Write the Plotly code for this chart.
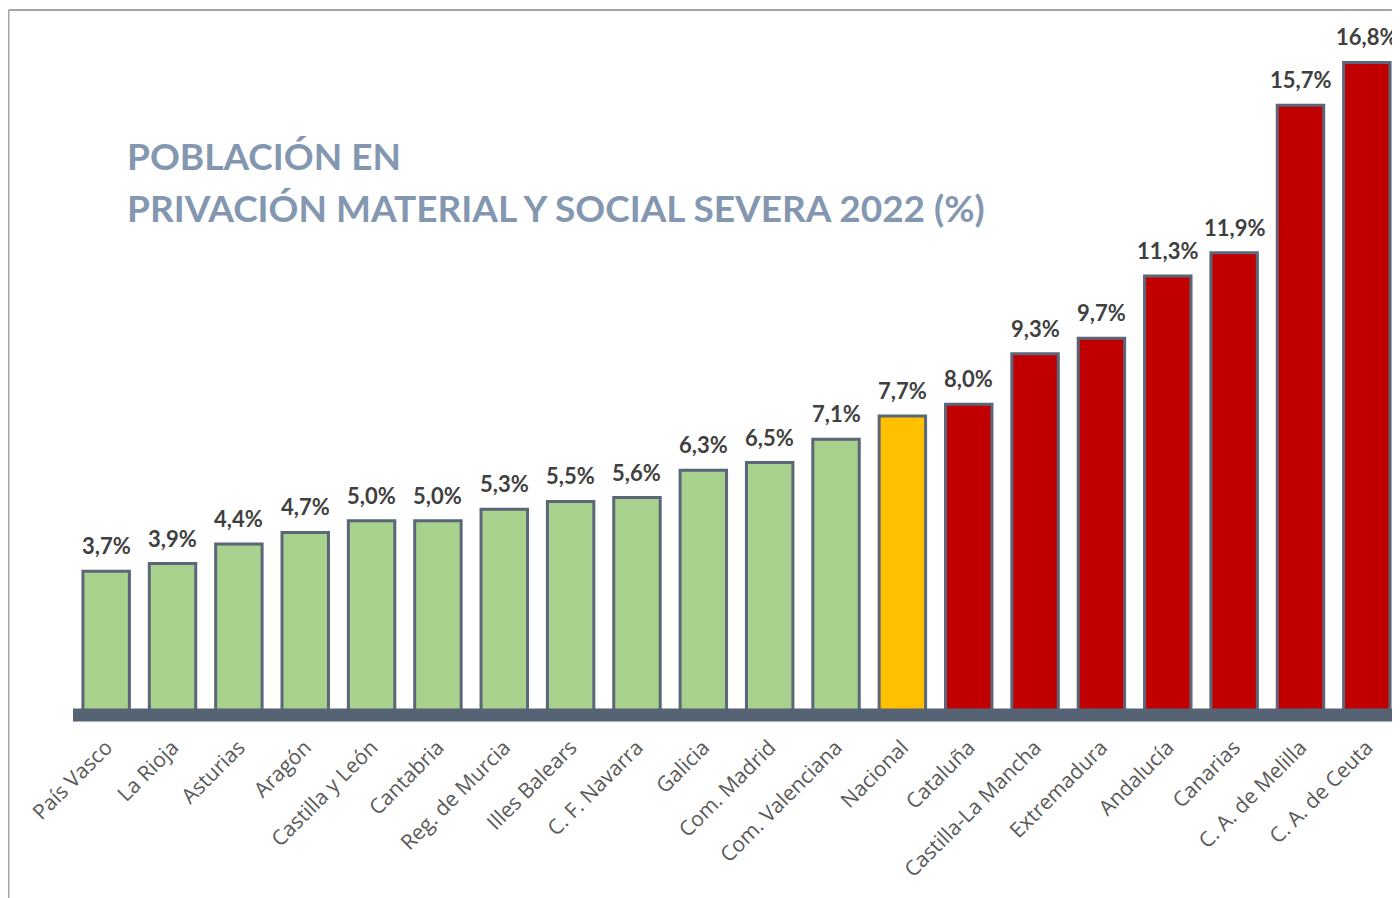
import plotly.graph_objects as go

regions = ["País Vasco", "La Rioja", "Asturias", "Aragón", "Castilla y León",
           "Cantabria", "Reg. de Murcia", "Illes Balears", "C. F. Navarra",
           "Galicia", "Com. Madrid", "Com. Valenciana", "Nacional", "Cataluña",
           "Castilla-La Mancha", "Extremadura", "Andalucía", "Canarias",
           "C. A. de Melilla", "C. A. de Ceuta"]
values = [3.7, 3.9, 4.4, 4.7, 5.0, 5.0, 5.3, 5.5, 5.6, 6.3, 6.5, 7.1,
          7.7, 8.0, 9.3, 9.7, 11.3, 11.9, 15.7, 16.8]
national = 7.7

GREEN, YELLOW, RED = "#A9D18E", "#FFC000", "#C00000"
colors = []
for r, v in zip(regions, values):
    if r == "Nacional":
        colors.append(YELLOW)
    elif v > national:
        colors.append(RED)
    else:
        colors.append(GREEN)

labels = [f"{v:.1f}%".replace(".", ",") for v in values]

# page has an 8px body margin, so the figure is 8px smaller on each axis
W, H = 1392, 890
ml, mr, mt, mb = 65, 0, 2, 183
plot_w = W - ml - mr
plot_h = H - mt - mb


def px_x(p):
    return (p - ml) / plot_w


def px_y(p):
    return (H - mb - p) / plot_h


fig = go.Figure(go.Bar(
    x=regions, y=values,
    marker=dict(color=colors, line=dict(color="#5B6678", width=3)),
    width=0.7, hoverinfo="skip",
))

# value labels above bars
for r, v, t in zip(regions, values, labels):
    fig.add_annotation(x=r, y=v, text="<b>" + t + "</b>", showarrow=False,
                       yanchor="bottom", yshift=10,
                       font=dict(family="Lato", size=22, color="#404040"))

# title (two lines)
for txt, yy in [("POBLACIÓN EN", 148),
                ("PRIVACIÓN MATERIAL Y SOCIAL SEVERA 2022 (%)", 200)]:
    fig.add_annotation(
        xref="paper", yref="paper", x=px_x(117), y=px_y(yy),
        xanchor="left", yanchor="middle", align="left", showarrow=False,
        text="<b>" + txt + "</b>",
        font=dict(family="Lato", size=37, color="#8497B0"),
    )

# thick base bar (paper ref so it is not clipped at the plot edge)
fig.add_shape(type="line", xref="paper", yref="paper", x0=0, x1=1.01, y0=0, y1=0,
              line=dict(color="#566375", width=13), layer="above")

# frame lines (left and top)
fig.add_shape(type="line", xref="paper", yref="paper", x0=px_x(0.5), x1=1.01,
              y0=px_y(2), y1=px_y(2), line=dict(color="#A6A6A6", width=2))
fig.add_shape(type="line", xref="paper", yref="paper", x0=px_x(0.5), x1=px_x(0.5),
              y0=px_y(2), y1=px_y(H + 5), line=dict(color="#A6A6A6", width=2))

fig.update_layout(
    width=W, height=H,
    margin=dict(l=ml, r=mr, t=mt, b=mb),
    paper_bgcolor="white", plot_bgcolor="white",
    showlegend=False,
    xaxis=dict(tickangle=-45, showgrid=False, showline=False, zeroline=False,
               ticks="", ticklabelstandoff=15,
               tickfont=dict(family="Open Sans", size=21, color="#595959")),
    yaxis=dict(range=[0, plot_h / 38.84], visible=False, showgrid=False, zeroline=False),
)

fig.write_html("out.html")
